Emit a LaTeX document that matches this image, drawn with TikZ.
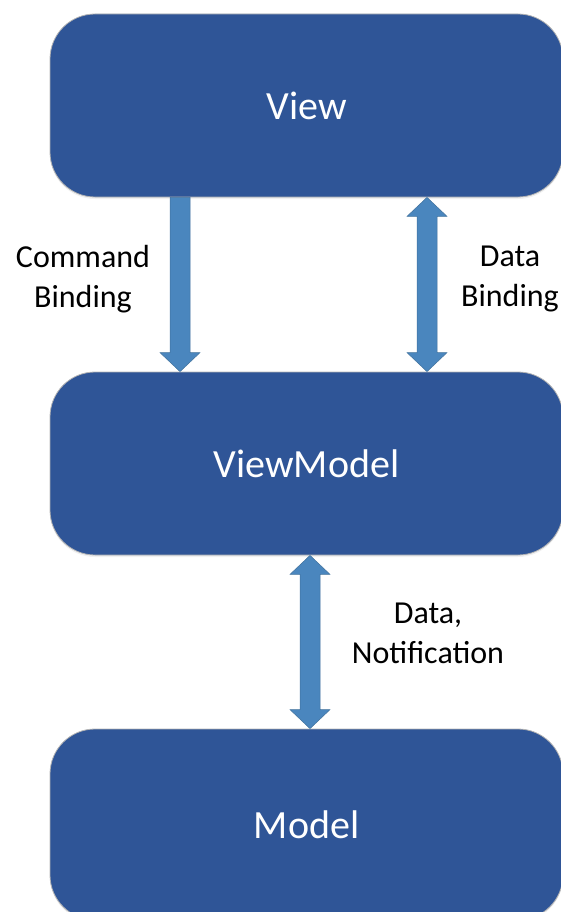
\documentclass[tikz,border=0pt]{standalone}
\usepackage{fontspec}
\setmainfont{Carlito}
\usetikzlibrary{calc,shadows}

\definecolor{boxblue}{HTML}{2F5597}
\definecolor{arrowblue}{HTML}{4A86BE}
\definecolor{arrowedge}{HTML}{41719C}
\definecolor{boxedge}{HTML}{B4B4B4}

\tikzset{
  layer/.style={rectangle, rounded corners=45pt, fill=boxblue, draw=boxedge,
    line width=0.8pt, minimum width=513pt, minimum height=183pt,
    text=white, font=\fontsize{40}{48}\selectfont,
    drop shadow={opacity=0.12, shadow xshift=0pt, shadow yshift=-2pt}},
  caption/.style={align=center, text=black, font=\fontsize{32}{40}\selectfont},
  blockarrow/.style={fill=arrowblue, draw=arrowedge, line width=0.5pt, line join=miter}
}

% single block arrow pointing down, from #1 (top) to #2 (tip)
\newcommand{\downblock}[2]{%
  \filldraw[blockarrow] let \p1=(#1), \p2=(#2) in
    (\x1-10pt,\y1) -- (\x1+10pt,\y1) -- (\x1+10pt,\y2+19pt) -- (\x1+20pt,\y2+19pt)
    -- (\x2,\y2) -- (\x1-20pt,\y2+19pt) -- (\x1-10pt,\y2+19pt) -- cycle;}

% double-headed block arrow between #1 (top tip) and #2 (bottom tip)
\newcommand{\bothblock}[2]{%
  \filldraw[blockarrow] let \p1=(#1), \p2=(#2) in
    (\x1,\y1) -- (\x1+20pt,\y1-19pt) -- (\x1+10pt,\y1-19pt) -- (\x1+10pt,\y2+19pt)
    -- (\x1+20pt,\y2+19pt) -- (\x2,\y2) -- (\x1-20pt,\y2+19pt) -- (\x1-10pt,\y2+19pt)
    -- (\x1-10pt,\y1-19pt) -- (\x1-20pt,\y1-19pt) -- cycle;}

\begin{document}
\begin{tikzpicture}[x=1pt, y=-1pt]
  \useasboundingbox (0,0) rectangle (561,912);
  \clip (0,0) rectangle (561,912);

  % the three layers
  \node[layer] (view)  at (306.5,105.5) {View};
  \node[layer] (vm)    at (306.5,463.5) {ViewModel};
  \node[layer, minimum height=191pt] (model) at (306.5,824.5) {Model};

  % arrow end points on the box edges
  \coordinate (cmdtop) at (view.south -| 180,0);
  \coordinate (cmdbot) at (vm.north -| 180,0);
  \coordinate (dbtop)  at (view.south -| 427,0);
  \coordinate (dbbot)  at (vm.north -| 427,0);
  \coordinate (ntop)   at (vm.south -| 310,0);
  \coordinate (nbot)   at (model.north -| 310,0);

  \downblock{cmdtop}{cmdbot}
  \bothblock{dbtop}{dbbot}
  \bothblock{ntop}{nbot}

  % captions
  \node[caption] (cmdlabel)  at (83,279)  {Command\\Binding};
  \node[caption] (dblabel)   at (510,279) {Data\\Binding};
  \node[caption] (notlabel)  at (428,633) {Data,\\Notification};
\end{tikzpicture}
\end{document}
